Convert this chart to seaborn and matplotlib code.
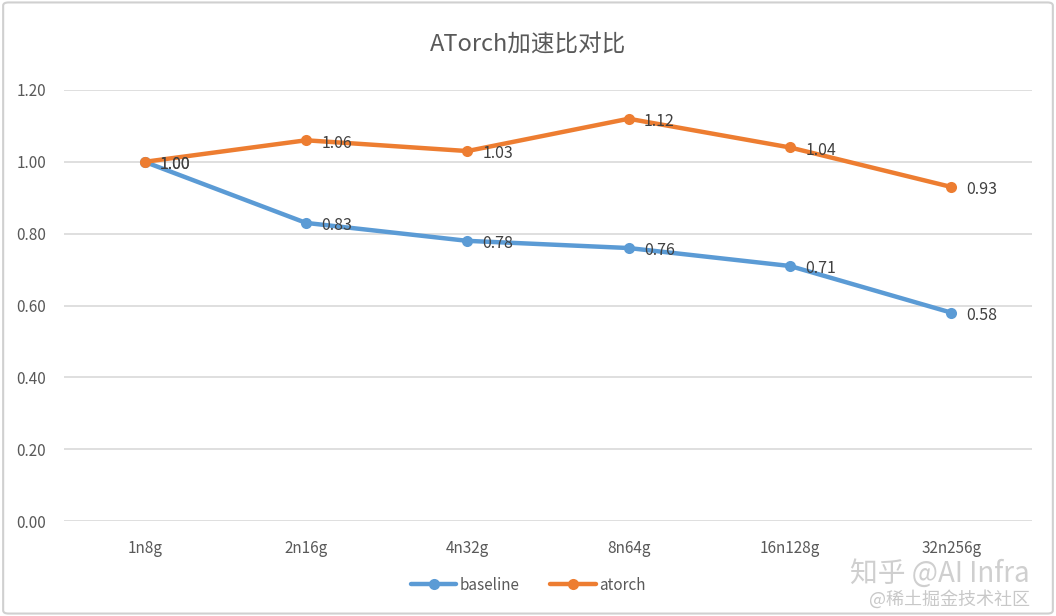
import pandas as pd
import matplotlib.pyplot as plt
import seaborn as sns
from matplotlib.patches import FancyBboxPatch

# chart data
configs = ["1n8g", "2n16g", "4n32g", "8n64g", "16n128g", "32n256g"]
baseline = [1.00, 0.83, 0.78, 0.76, 0.71, 0.58]
atorch = [1.00, 1.06, 1.03, 1.12, 1.04, 0.93]
y_ticks = [0.0, 0.2, 0.4, 0.6, 0.8, 1.0, 1.2]

colors = {"baseline": "#5B9BD5", "atorch": "#ED7D31"}

sns.set_theme(style="white")
plt.rcParams["font.family"] = ["Noto Sans CJK SC", "DejaVu Sans"]

df = pd.DataFrame({
    "config": configs * 2,
    "speedup": baseline + atorch,
    "series": ["baseline"] * len(configs) + ["atorch"] * len(configs),
})
df["x"] = df.groupby("series").cumcount()

fig = plt.figure(figsize=(10.56, 6.16), dpi=100)
ax = fig.add_axes([64 / 1056, 95 / 616, 968 / 1056, 431 / 616])

sns.lineplot(
    data=df, x="x", y="speedup", hue="series", palette=colors,
    marker="o", markersize=8, markeredgewidth=0, linewidth=3.2,
    ax=ax, legend=False,
)

# data labels
for name, vals in [("baseline", baseline), ("atorch", atorch)]:
    for i, v in enumerate(vals):
        ax.annotate(f"{v:.2f}", (i, v), xytext=(11, -2), textcoords="offset points",
                    va="center", ha="left", fontsize=11.5, color="#404040")

ax.set_xlim(-0.5, len(configs) - 0.5)
ax.set_ylim(0, 1.2)
ax.set_yticks(y_ticks)
ax.set_yticklabels([f"{t:.2f}" for t in y_ticks])
ax.set_xticks(range(len(configs)))
ax.set_xticklabels(configs)
ax.tick_params(axis="both", length=0, labelsize=11, labelcolor="#595959")
ax.tick_params(axis="y", pad=13)
ax.tick_params(axis="x", pad=14)
ax.yaxis.grid(True, color="#d9d9d9", linewidth=1.2)
ax.set_axisbelow(True)
for s in ax.spines.values():
    s.set_visible(False)
ax.set_xlabel("")
ax.set_ylabel("")

fig.text(0.5, 0.927, "ATorch加速比对比", ha="center", va="center",
         fontsize=17, color="#595959")

# legend
handles = [plt.Line2D([], [], color=colors[k], marker="o", markersize=8,
                      markeredgewidth=0, linewidth=3.2) for k in colors]
fig.legend(handles, list(colors.keys()), loc="center", bbox_to_anchor=(0.5, 0.05),
           ncol=2, frameon=False, fontsize=11, handlelength=3.0,
           columnspacing=2.0, handletextpad=0.2, labelcolor="#595959")

# chart border
fig.patches.append(FancyBboxPatch((0.003, 0.004), 0.994, 0.992,
                                  boxstyle="round,pad=0,rounding_size=0.005",
                                  transform=fig.transFigure, fill=False,
                                  edgecolor="#d0d0d0", linewidth=1.5))

# watermark
fig.text(0.975, 0.068, "知乎 @AI Infra", ha="right", va="center",
         fontsize=20, color="#cfcfcf")
fig.text(0.975, 0.027, "@稀土掘金技术社区", ha="right", va="center",
         fontsize=13, color="#c8c8c8")

fig.savefig("out.png", dpi=100)
